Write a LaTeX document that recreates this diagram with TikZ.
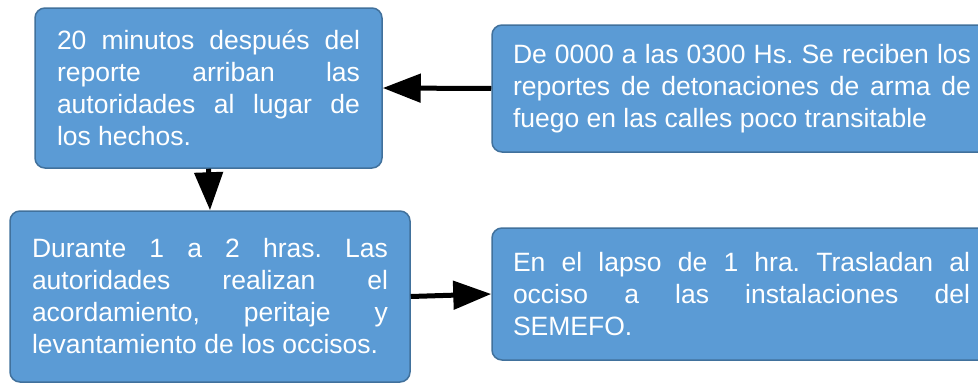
\documentclass[tikz,border=0pt]{standalone}
\usepackage{fontspec}
\setmainfont{Liberation Sans}
\usetikzlibrary{arrows.meta}
\definecolor{boxfill}{HTML}{5B9BD5}
\definecolor{boxline}{HTML}{41719C}
\tikzset{
  stagebox/.style={draw=boxline, line width=1.5pt, fill=boxfill, rounded corners=10pt,
    text=white, align=justify, font=\fontsize{26.5}{32}\selectfont\frenchspacing,
    inner xsep=22pt, inner ysep=0pt},
  flow/.style={line width=5pt, -{Triangle[length=38pt,width=28pt]}}
}
\begin{document}
\begin{tikzpicture}[x=1pt,y=-1pt]
    \useasboundingbox (0,0) rectangle (978,383);

    % stages
    \node[stagebox, text width=303pt, minimum height=160pt] (arribo) at (208.5,88)
      {20 minutos después del\linebreak reporte arriban las\linebreak autoridades al lugar de\linebreak los hechos.};
    \node[stagebox, text width=458pt, inner xsep=21pt, minimum height=127pt] (reporte) at (742,88.5)
      {De 0000 a las 0300 Hs. Se reciben los\linebreak reportes de detonaciones de arma de\linebreak fuego en las calles poco transitable};
    \node[stagebox, text width=356pt, minimum height=171pt] (peritaje) at (210,296.5)
      {Durante 1 a 2 hras. Las\linebreak autoridades realizan el\linebreak acordamiento, peritaje y\linebreak levantamiento de los occisos.};
    \node[stagebox, text width=457pt, inner xsep=21pt, minimum height=132pt] (traslado) at (741.5,294)
      {En el lapso de 1 hra. Trasladan al\linebreak occiso a las instalaciones del\linebreak SEMEFO.};

    % flow of events
    \draw[flow] (reporte.west) -- (arribo.east);
    \draw[flow] (arribo.south) -- (peritaje.north);
    \draw[flow] (peritaje.east) -- (traslado.west);
\end{tikzpicture}
\end{document}
